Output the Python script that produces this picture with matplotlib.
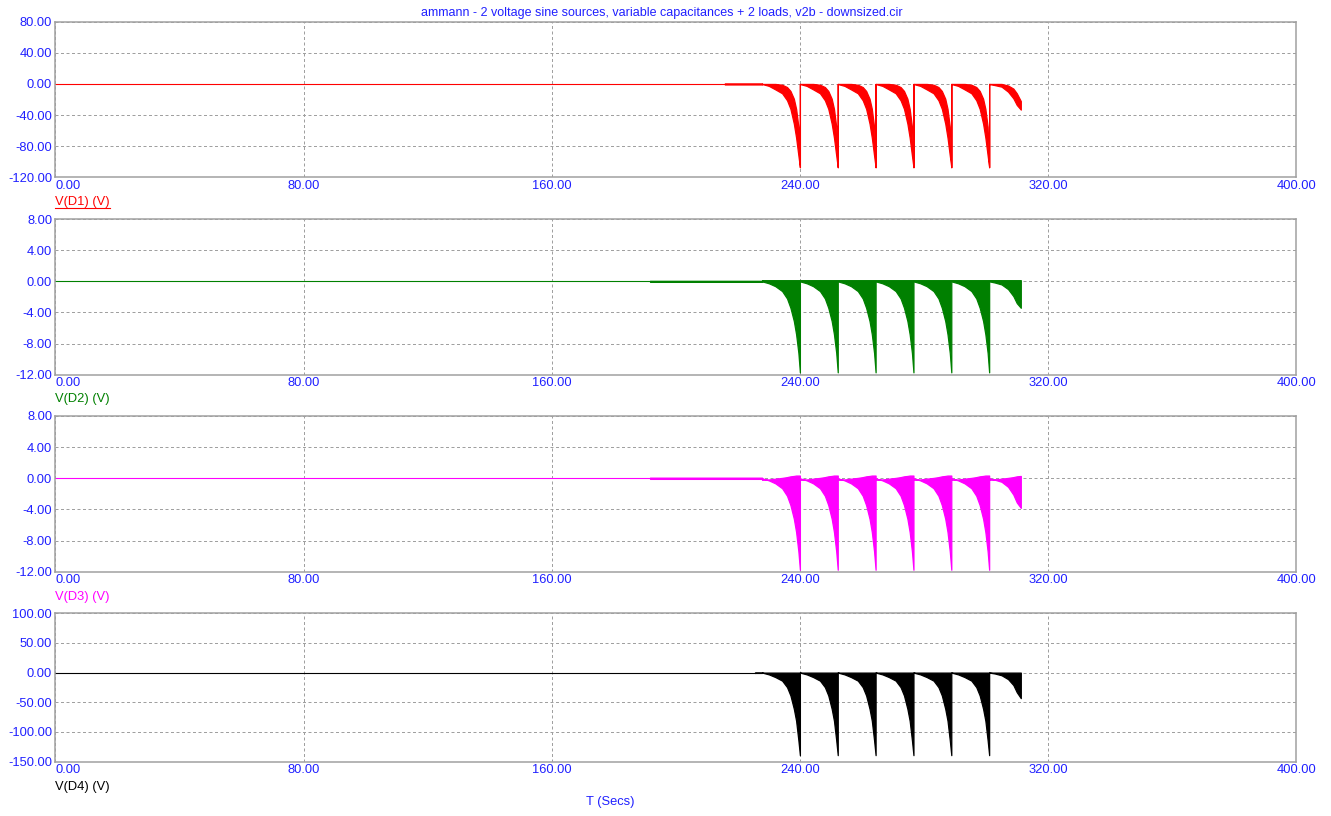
import numpy as np
import matplotlib
matplotlib.use("Agg")
import matplotlib.pyplot as plt
from matplotlib.lines import Line2D

plt.rcParams['font.family'] = ['Liberation Sans', 'DejaVu Sans']

TITLE = "ammann - 2 voltage sine sources, variable capacitances + 2 loads, v2b - downsized.cir"
BLUE = '#2020ff'
GRIDC = '#a0a0a0'

# time axis
x_ticks = [0, 80, 160, 240, 320, 400]
x_labels = ['0.00', '80.00', '160.00', '240.00', '320.00', '400.00']

# discharge spikes (s) and end of the run
spike_t = [240.0, 252.2, 264.4, 276.6, 288.8, 301.0]
first_start = 227.8
t_end = 311.2

# position inside one period (0 = just after a spike, 1 = next spike)
phase = [0.0, 0.18, 0.35, 0.53, 0.66, 0.75, 0.84, 0.90, 0.96, 1.0]
# last, unfinished period
tail_t = [301.0, 302.8, 305.0, 307.1, 308.8, 309.9, 311.2]

# V(D1): envelope of the oscillation
d1_onset = 215.8
d1_lo = [0, -2.5, -7, -12, -21, -32, -51, -69, -92, -107]
d1_hi = [0, 0, 0, -1, -4, -9, -19, -32, -55, -107]
d1_tail_lo = [0, -1.5, -3.5, -10, -18.5, -27, -33]
d1_tail_hi = [0, 0, 0, -2, -6, -12, -22]

# V(D2)
d2_onset = 191.7
d2_lo = [0, -0.25, -0.62, -1.25, -2.2, -3.4, -5.1, -6.8, -9.2, -11.7]
d2_hi = [0.15, 0.15, 0.15, 0.15, 0.15, 0.15, 0.15, 0.15, 0.15, 0.15]
d2_tail_lo = [0, -0.15, -0.4, -1.0, -1.9, -2.8, -3.4]
d2_tail_hi = [0.15, 0.15, 0.15, 0.15, 0.15, 0.15, 0.15]

# V(D3)
d3_onset = 191.7
d3_lo = [0, -0.27, -0.65, -1.28, -2.25, -3.45, -5.2, -6.9, -9.4, -11.75]
d3_hi = [-0.2, -0.15, -0.05, 0.05, 0.15, 0.25, 0.3, 0.35, 0.35, 0.35]
d3_tail_lo = [0, -0.18, -0.45, -1.1, -2.1, -3.1, -3.8]
d3_tail_hi = [-0.2, -0.15, -0.05, 0.05, 0.15, 0.25, 0.3]

# V(D4)
d4_onset = 225.5
d4_lo = [0, -3, -7.5, -13.5, -24.5, -38.5, -61, -81, -114, -139]
d4_hi = [0, 0, 0, 0, 0, 0, 0, 0, 0, 0]
d4_tail_lo = [0, -1.5, -4.5, -11, -21, -33, -43]
d4_tail_hi = [0, 0, 0, 0, 0, 0, 0]

panels = [
    dict(name='V(D1) (V)', color='#ff0000', ylim=(-120, 80),
         yticks=[-120, -80, -40, 0, 40, 80], onset=d1_onset, lead=(-0.7, 0.7),
         lo=d1_lo, hi=d1_hi, tail_lo=d1_tail_lo, tail_hi=d1_tail_hi, underline=True),
    dict(name='V(D2) (V)', color='#008000', ylim=(-12, 8),
         yticks=[-12, -8, -4, 0, 4, 8], onset=d2_onset, lead=(-0.07, 0.07),
         lo=d2_lo, hi=d2_hi, tail_lo=d2_tail_lo, tail_hi=d2_tail_hi, underline=False),
    dict(name='V(D3) (V)', color='#ff00ff', ylim=(-12, 8),
         yticks=[-12, -8, -4, 0, 4, 8], onset=d3_onset, lead=(-0.08, 0.08),
         lo=d3_lo, hi=d3_hi, tail_lo=d3_tail_lo, tail_hi=d3_tail_hi, underline=False),
    dict(name='V(D4) (V)', color='#000000', ylim=(-150, 100),
         yticks=[-150, -100, -50, 0, 50, 100], onset=d4_onset, lead=(-0.6, 0.2),
         lo=d4_lo, hi=d4_hi, tail_lo=d4_tail_lo, tail_hi=d4_tail_hi, underline=False),
]


def envelope(p):
    ts, los, his = [p['onset'], first_start], [p['lead'][0]] * 2, [p['lead'][1]] * 2
    starts = [first_start] + spike_t[:-1]
    for a, b in zip(starts, spike_t):
        for ph, lo, hi in zip(phase, p['lo'], p['hi']):
            ts.append(a + ph * (b - a))
            los.append(lo)
            his.append(hi)
    ts += tail_t
    los += p['tail_lo']
    his += p['tail_hi']
    return np.array(ts), np.array(los), np.array(his)


W, H = 1331, 816
fig = plt.figure(figsize=(W / 100, H / 100), dpi=100)
fig.patch.set_facecolor('white')

# axes boxes in pixels: top, bottom
boxes = [(21.7, 177.3), (219.1, 374.7), (416.0, 571.7), (613.2, 761.7)]
label_y = [201.7, 399.3, 597.3, 787.3]
left_px, right_px = 55.3, 1296.3

for p, (top, bot), ly in zip(panels, boxes, label_y):
    ax = fig.add_axes([left_px / W, 1 - bot / H, (right_px - left_px) / W, (bot - top) / H])
    t, lo, hi = envelope(p)
    ax.plot([0, p['onset']], [0, 0], color=p['color'], lw=0.8)
    ax.fill_between(t, lo, hi, color=p['color'], lw=0.9, edgecolor=p['color'])
    ax.set_xlim(0, 400)
    ax.set_ylim(*p['ylim'])
    ax.set_yticks(p['yticks'])
    ax.set_yticklabels(['%.2f' % v for v in p['yticks']])
    ax.set_xticks(x_ticks)
    ax.set_xticklabels(x_labels)
    ax.get_xticklabels()[0].set_horizontalalignment('left')
    ax.tick_params(length=0, labelcolor=BLUE, labelsize=9.3)
    ax.tick_params(axis='y', pad=2.2)
    ax.tick_params(axis='x', pad=2.0)
    ax.grid(True, color=GRIDC, lw=0.72, linestyle=(0, (3, 2.5)))
    ax.set_axisbelow(True)
    for s in ax.spines.values():
        s.set_color(GRIDC)
        s.set_linewidth(1.1)
    txt = fig.text(left_px / W, 1 - ly / H, p['name'], color=p['color'],
                   fontsize=9.3, ha='left', va='center')
    if p['underline']:
        fig.canvas.draw()
        bb = txt.get_window_extent()
        uy = 1 - 208.3 / H
        fig.add_artist(Line2D([bb.x0 / W, bb.x1 / W], [uy, uy], color=p['color'], lw=0.8))

fig.text(662 / W, 1 - 13 / H, TITLE, color=BLUE, fontsize=9.0, ha='center', va='center')
fig.text(610 / W, 1 - 802 / H, 'T (Secs)', color=BLUE, fontsize=9.3, ha='center', va='center')

fig.savefig('out.png', dpi=100, facecolor='white')
